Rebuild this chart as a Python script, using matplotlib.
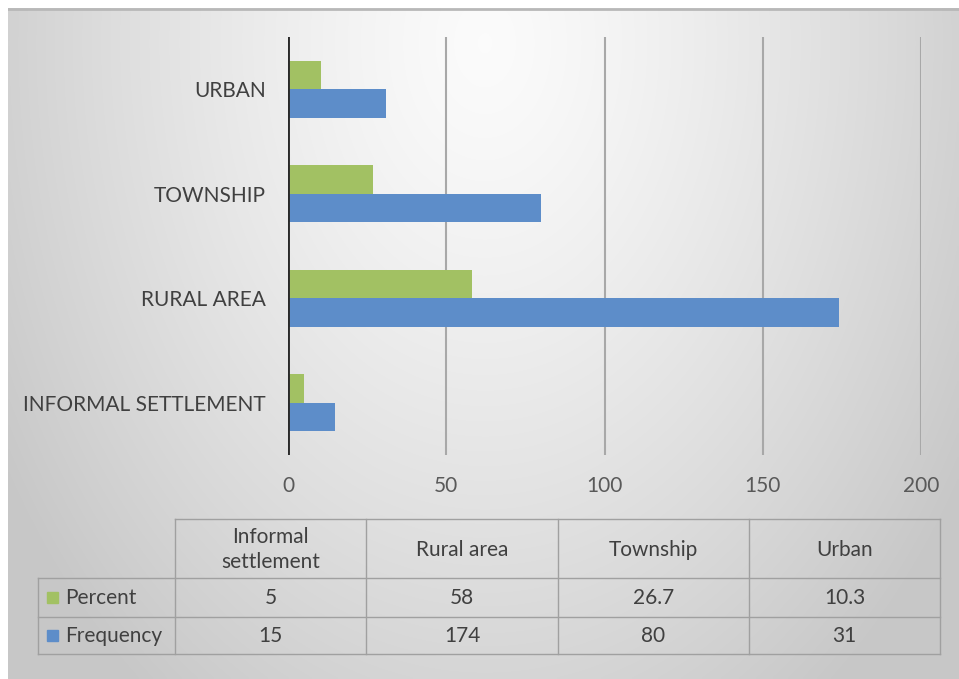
import matplotlib.pyplot as plt
import numpy as np
from matplotlib.patches import Rectangle

# ---- data ----
categories = ['INFORMAL SETTLEMENT', 'RURAL AREA', 'TOWNSHIP', 'URBAN']
table_cols = ['Informal\nsettlement', 'Rural area', 'Township', 'Urban']
percent = [5, 58, 26.7, 10.3]
frequency = [15, 174, 80, 31]
series_names = ['Percent', 'Frequency']
xticks = [0, 50, 100, 150, 200]

green = '#a2c163'
blue = '#5d8dc9'
txt = '#404040'
grid_c = '#a8a8a8'
font = 'Lato'
fs = 15

W, H = 959, 679
fig = plt.figure(figsize=(W / 100, H / 100), dpi=100)
fig.patch.set_facecolor('white')

# background radial-ish gradient of the chart area
bg = fig.add_axes([8 / W, 0, (W - 8) / W, (H - 8) / H], zorder=-5)
yy, xx = np.mgrid[0:200, 0:300]
d = np.sqrt(((xx - 150) / 170.0) ** 2 + ((yy - 10) / 230.0) ** 2)
shade = 0.985 - 0.19 * np.clip(d, 0, 1.05) ** 1.3
bg.imshow(np.dstack([shade] * 3), aspect='auto', extent=[0, 1, 0, 1], interpolation='bilinear')
bg.plot([0, 1], [0.999, 0.999], color='#b8b8b8', lw=2, transform=bg.transAxes)
bg.axis('off')

# ---- bar chart ----
ax = fig.add_axes([288 / W, (H - 455) / H, (921 - 288) / W, (455 - 37) / H])
ax.patch.set_alpha(0)
pos = np.arange(len(categories))
h = 0.275
ax.barh(pos + h / 2, percent, height=h, color=green, zorder=3)
ax.barh(pos - h / 2, frequency, height=h, color=blue, zorder=3)
ax.set_xlim(0, 200)
ax.set_ylim(-0.5, len(categories) - 0.5)
for xv in xticks[1:]:
    ax.axvline(xv, color=grid_c, lw=1.5, zorder=1)
ax.axvline(0, color='#2a2a2a', lw=2.8, zorder=4)
for s in ax.spines.values():
    s.set_visible(False)
ax.set_xticks(xticks)
ax.set_xticklabels([str(v) for v in xticks], family=font, fontsize=fs, color='#595959')
ax.set_yticks(pos)
ax.set_yticklabels(categories, family=font, fontsize=fs, color=txt)
ax.tick_params(length=0)
ax.tick_params(axis='y', pad=16)
ax.tick_params(axis='x', pad=15)

# ---- data table (pixel coordinates) ----
tb = fig.add_axes([0, 0, 1, 1], zorder=2)
tb.set_xlim(0, W)
tb.set_ylim(H, 0)
tb.axis('off')
col_x = [175, 366, 558, 749, 940]
row_y = [519, 578, 617, 654]
lab_x0 = 38
lc = '#a0a0a0'
# horizontal lines
tb.plot([col_x[0], col_x[-1]], [row_y[0]] * 2, color=lc, lw=1)
for ry in row_y[1:]:
    tb.plot([lab_x0, col_x[-1]], [ry] * 2, color=lc, lw=1)
# vertical lines
for cx in col_x:
    tb.plot([cx, cx], [row_y[0], row_y[-1]], color=lc, lw=1)
tb.plot([lab_x0, lab_x0], [row_y[1], row_y[-1]], color=lc, lw=1)

for i, name in enumerate(table_cols):
    xc = (col_x[i] + col_x[i + 1]) / 2
    tb.text(xc, (row_y[0] + row_y[1]) / 2 + 1, name, ha='center', va='center',
            family=font, fontsize=fs, color=txt, linespacing=1.35)
for r, (name, vals, col) in enumerate(zip(series_names, [percent, frequency], [green, blue])):
    yc = (row_y[r + 1] + row_y[r + 2]) / 2
    tb.add_patch(Rectangle((47, yc - 6), 11, 11, color=col))
    tb.text(65, yc, name, ha='left', va='center', family=font, fontsize=fs, color=txt)
    for i, v in enumerate(vals):
        xc = (col_x[i] + col_x[i + 1]) / 2
        tb.text(xc, yc, f'{v:g}', ha='center', va='center', family=font, fontsize=fs, color=txt)

fig.savefig('out.png', dpi=100)
